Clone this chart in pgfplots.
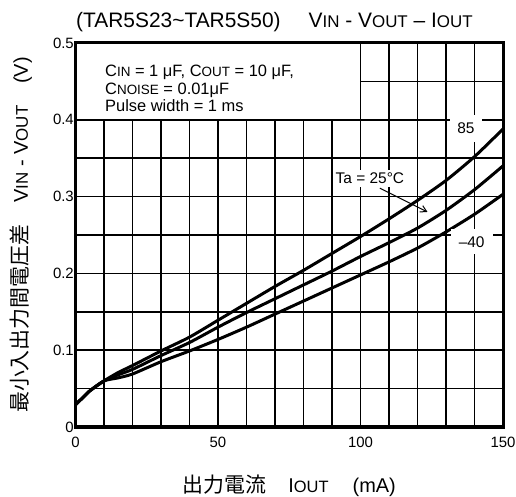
\documentclass[border=0pt]{standalone}
\usepackage{pgfplots}
\pgfplotsset{compat=1.18}
\usepackage{fontspec}
\setmainfont{Liberation Sans}
\newfontfamily\cjk{Noto Sans CJK JP}
\usetikzlibrary{calc,arrows.meta}
\newcommand\fs[2]{{\fontsize{#1}{#1}\selectfont #2}}

\pgfplotstableread{
x    t85    t25    tm40
0    0.029  0.029  0.029
2.5  0.038  0.038  0.038
5    0.047  0.047  0.047
10   0.060  0.060  0.060
15   0.071  0.068  0.064
20   0.080  0.075  0.069
30   0.099  0.093  0.085
40   0.117  0.110  0.099
50   0.139  0.130  0.114
60   0.161  0.149  0.130
70   0.183  0.167  0.147
80   0.204  0.185  0.164
90   0.226  0.203  0.181
100  0.248  0.222  0.198
110  0.271  0.240  0.215
120  0.295  0.259  0.233
130  0.321  0.282  0.254
140  0.352  0.309  0.277
150  0.388  0.340  0.303
}\data

\begin{document}
\begin{tikzpicture}
\begin{axis}[
  scale only axis, width=427.5bp, height=384bp,
  xmin=0, xmax=150, ymin=0, ymax=0.5,
  clip=false,
  xtick={0,50,100,150}, xticklabels={0,50,100,150},
  ytick={0,0.1,0.2,0.3,0.4,0.5}, yticklabels={0,0.1,0.2,0.3,0.4,0.5},
  minor xtick={10,20,30,40,60,70,80,90,110,120,130,140},
  minor ytick={0.05,0.15,0.25,0.35,0.45},
  grid=both,
  major grid style={black, line width=1.5bp},
  minor grid style={black, line width=1.5bp},
  axis line style={black, line width=3bp},
  tick style={draw=none},
  ticklabel style={font=\fontsize{15}{15}\selectfont},
  /pgf/number format/assume math mode=true,
  yticklabel style={inner sep=1.5bp},
  xticklabel style={yshift=-7bp},
]
\addplot[black, line width=3bp, smooth, tension=0.4] table[x=x, y=t85] {\data};
\addplot[black, line width=3bp, smooth, tension=0.4] table[x=x, y=t25] {\data};
\addplot[black, line width=3bp, smooth, tension=0.4] table[x=x, y=tm40] {\data};

% white legend box
\fill[white] (axis cs:0,0.4) rectangle (axis cs:100,0.5);
\draw[line width=1.5bp] (axis cs:0,0.4) -- (axis cs:100,0.4) -- (axis cs:100,0.5);
\draw[line width=3bp] (axis cs:0,0.4) -- (axis cs:0,0.5) -- (axis cs:100,0.5);

% annotations
\node[fill=white, inner xsep=7bp, inner ysep=8bp, font=\fontsize{15.5}{15.5}\selectfont] at (axis cs:137,0.389) {85};
\node[fill=white, inner xsep=8bp, inner ysep=7bp, font=\fontsize{15.5}{15.5}\selectfont] at (axis cs:139,0.241) {\textendash 40};
\node[fill=white, inner sep=3bp, font=\fontsize{15.5}{15.5}\selectfont] at (axis cs:103.3,0.324) {Ta = 25°C};
\draw[line width=1bp, -{Straight Barb[length=6bp,width=7bp]}] (axis cs:106.8,0.311) -- (axis cs:123.5,0.280);
\end{axis}

% legend box text
\node[anchor=base west, inner sep=0pt, font=\fontsize{16.5}{16.5}\selectfont] at ($(current axis.north west)+(29.5bp,-34bp)$)
  {C\fs{13.5}{IN} = 1 μF, C\fs{13.5}{OUT} = 10 μF,};
\node[anchor=base west, inner sep=0pt, font=\fontsize{16.5}{16.5}\selectfont] at ($(current axis.north west)+(29.5bp,-52bp)$)
  {C\fs{13.5}{NOISE} = 0.01μF};
\node[anchor=base west, inner sep=0pt, font=\fontsize{16.5}{16.5}\selectfont] at ($(current axis.north west)+(29.5bp,-69bp)$)
  {Pulse width = 1 ms};

% title
\node[anchor=base west, inner sep=0pt, font=\fontsize{21}{21}\selectfont] at ($(current axis.north west)+(0.5bp,15bp)$)
  {(TAR5S23\textasciitilde TAR5S50)\hspace{28bp}V\fs{17}{IN} - V\fs{17}{OUT} \textendash{} I\fs{17}{OUT}};

% x label
\node[anchor=base, inner sep=0pt, font=\fontsize{20}{20}\selectfont] at ($(current axis.south)+(0,-65bp)$)
  {{\cjk\fontsize{21}{21}\selectfont 出力電流}\hspace{22bp}I\fs{16.5}{OUT}\hspace{24bp}(mA)};

% y label
\node[anchor=base, rotate=90, inner sep=0pt, font=\fontsize{20}{20}\selectfont] at ($(current axis.west)+(-47.5bp,0)$)
  {{\cjk\fontsize{21}{21}\selectfont 最小入出力間電圧差}\hspace{22bp}V\fs{17}{IN} - V\fs{17}{OUT}\hspace{22bp}(V)};

\pgfresetboundingbox
\path[use as bounding box] ($(current axis.south west)+(-75.5bp,-70bp)$) rectangle ($(current axis.north east)+(13bp,43bp)$);
\end{tikzpicture}
\end{document}
